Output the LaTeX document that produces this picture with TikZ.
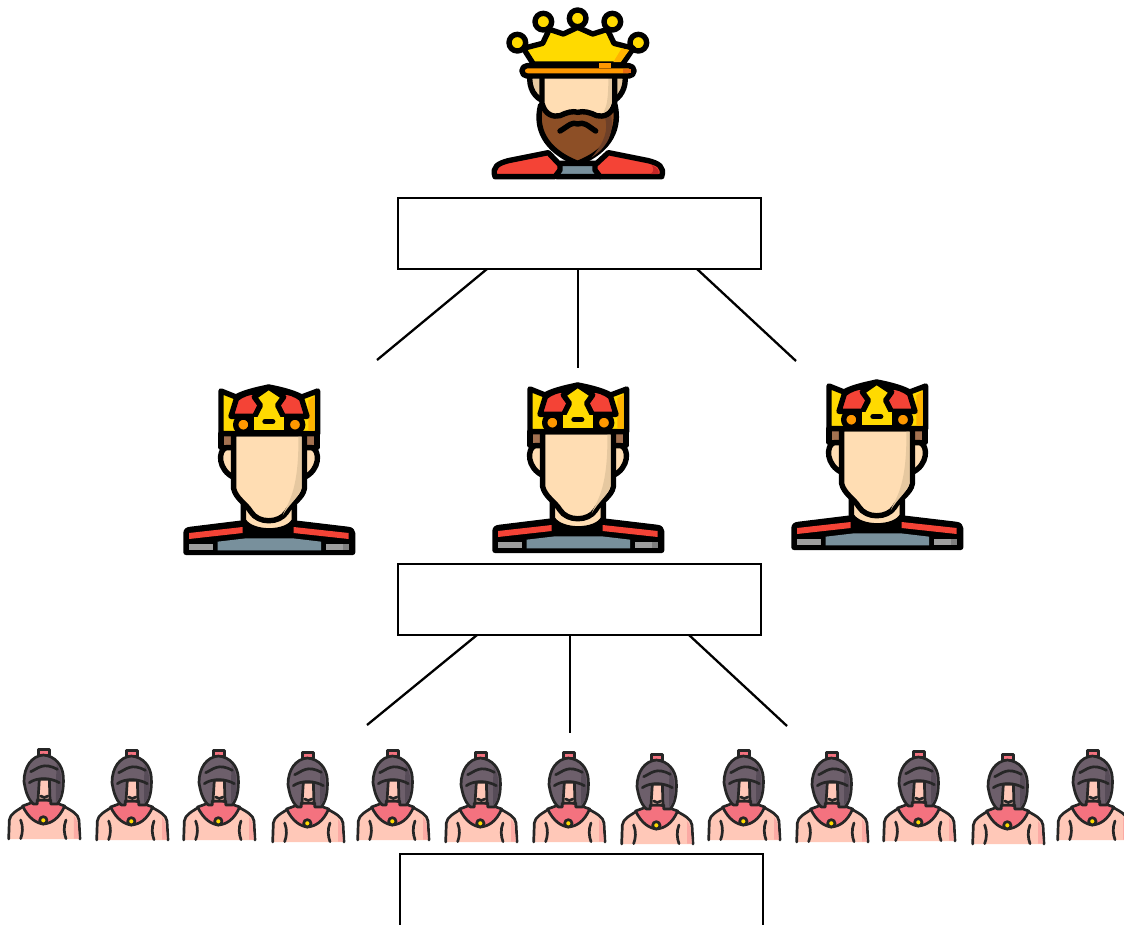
\documentclass[tikz,border=0pt]{standalone}
\usetikzlibrary{calc}
\definecolor{gold}{HTML}{FFDA00}
\definecolor{goldd}{HTML}{FFB300}
\definecolor{orng}{HTML}{FF9800}
\definecolor{skin}{HTML}{FFDDB3}
\definecolor{skind}{HTML}{E6C8A0}
\definecolor{beard}{HTML}{8D4F26}
\definecolor{beardd}{HTML}{6E4028}
\definecolor{redc}{HTML}{F44336}
\definecolor{redd}{HTML}{C62828}
\definecolor{slate}{HTML}{78909C}
\definecolor{grayb}{HTML}{9E9E9E}
\definecolor{helm}{HTML}{6D5F6B}
\definecolor{helmd}{HTML}{574C58}
\definecolor{sskin}{HTML}{FFC8B8}
\definecolor{scoll}{HTML}{F4727F}
\tikzset{
 ln/.style={draw=black,line width=5.4pt,line join=round,line cap=round},
 sl/.style={draw=black!85,line width=2.7pt,line join=round,line cap=round},
 boxn/.style={draw=black,line width=2.6pt,fill=white,minimum width=363pt,minimum height=71pt,inner sep=0pt,outer sep=0pt},
 conn/.style={draw=black,line width=2.3pt},
 king/.pic={
  \begin{scope}[scale=1/3]
   % shoulders
   \draw[ln,fill=slate] (230,530) -- (240,490) -- (350,490) -- (360,530) -- cycle;
   \draw[ln,fill=redc] (45,530) .. controls (35,500) and (55,490) .. (85,482) -- (205,458) -- (240,495) -- (240,510) -- (225,530) -- cycle;
   \draw[ln,fill=redc] (545,530) .. controls (555,500) and (535,490) .. (505,482) -- (385,458) -- (345,495) -- (345,510) -- (360,530) -- cycle;
   \fill[redd] (515,495) .. controls (535,505) and (538,512) .. (535,522) -- (512,522) .. controls (522,515) and (522,505) .. (515,495) -- cycle;
   % ears
   \draw[ln,fill=skind] (150,225) .. controls (145,265) and (165,295) .. (195,305) -- (195,225) -- cycle;
   \draw[ln,fill=skind] (435,225) .. controls (440,265) and (420,295) .. (395,305) -- (395,225) -- cycle;
   % beard
   \draw[ln,fill=beard] (182,315) .. controls (165,380) and (190,450) .. (293,490) .. controls (395,450) and (420,380) .. (405,315) -- (293,300) -- cycle;
   \fill[beardd] (393,345) .. controls (403,395) and (385,440) .. (335,472) .. controls (375,425) and (385,390) .. (375,352) -- cycle;
   % face
   \draw[ln,fill=skin] (186,225) -- (186,310) .. controls (195,345) and (220,352) .. (240,347) .. controls (260,337) and (280,332) .. (293,337) .. controls (310,332) and (330,337) .. (350,347) .. controls (370,352) and (395,345) .. (404,310) -- (404,225) -- cycle;
   \fill[skind] (385,235) -- (395,235) -- (395,305) .. controls (390,325) and (380,335) .. (370,338) .. controls (380,320) and (385,300) .. (385,235) -- cycle;
   \draw[ln] (240,393) .. controls (270,375) and (275,365) .. (293,372) .. controls (312,365) and (320,375) .. (347,393);
   % crown balls
   \draw[ln,fill=gold] (112,128) circle (25);
   \draw[ln,fill=gold] (190,65) circle (25);
   \draw[ln,fill=gold] (293,55) circle (25);
   \draw[ln,fill=gold] (397,65) circle (25);
   \draw[ln,fill=gold] (475,128) circle (25);
   % crown
   \draw[ln,fill=gold] (160,192) -- (130,145) -- (188,130) -- (208,88) -- (250,102) -- (293,82) -- (338,102) -- (382,88) -- (402,130) -- (460,145) -- (428,192) -- cycle;
   \fill[goldd] (425,145) -- (448,150) -- (422,186) -- (400,186) -- cycle;
   % band
   \draw[ln,fill=orng,rounded corners=5pt] (126,197) rectangle (462,228);
   \fill[orng] (358,188) rectangle (392,205);
   \fill[redd!40!orng] (430,206) rectangle (452,220);
  \end{scope}
 },
 prince/.pic={
  \begin{scope}[scale=1/3]
   % shoulders
   \draw[ln,fill=black] (45,526) -- (45,470) .. controls (45,460) and (50,458) .. (60,457) -- (215,438) -- (370,438) -- (530,457) .. controls (540,458) and (545,462) .. (545,470) -- (545,526) -- cycle;
   \fill[redc] (54,468) -- (215,450) -- (215,468) -- (54,486) -- cycle;
   \fill[redc] (368,450) -- (533,468) -- (533,486) -- (368,468) -- cycle;
   \fill[slate] (140,494) -- (225,484) -- (365,484) -- (450,494) -- (450,520) -- (140,520) -- cycle;
   \fill[grayb] (54,500) rectangle (125,520);
   \fill[grayb] (465,500) rectangle (535,520);
   \fill[black!50] (517,500) rectangle (535,520);
   % neck
   \draw[ln,fill=skin] (217,375) -- (217,430) .. controls (240,472) and (350,472) .. (370,430) -- (370,375) -- cycle;
   % hair
   \draw[ln,fill=beard!80] (150,170) -- (150,212) -- (190,212) -- (190,170) -- cycle;
   \draw[ln,fill=beard!80] (438,170) -- (438,212) -- (398,212) -- (398,170) -- cycle;
   % ears
   \draw[ln,fill=skin] (190,212) -- (165,212) .. controls (140,220) and (140,280) .. (190,302) -- cycle;
   \draw[ln,fill=skin] (398,212) -- (423,212) .. controls (448,220) and (448,280) .. (398,302) -- cycle;
   % face
   \draw[ln,fill=skin] (188,170) -- (188,335) .. controls (195,365) and (225,380) .. (240,405) .. controls (262,440) and (325,440) .. (347,405) .. controls (360,380) and (395,365) .. (400,335) -- (400,170) -- cycle;
   \fill[skind] (382,178) -- (392,178) -- (392,333) .. controls (385,360) and (355,380) .. (335,415) .. controls (345,385) and (385,350) .. (382,178) -- cycle;
   % crown
   \draw[ln,fill=gold] (150,42) -- (195,60) .. controls (220,45) and (270,35) .. (293,30) .. controls (320,35) and (365,45) .. (392,60) -- (440,42) -- (440,170) -- (150,170) -- cycle;
   \fill[goldd] (412,70) -- (431,57) -- (431,161) -- (412,161) -- cycle;
   \draw[ln,fill=redc] (180,118) -- (196,66) .. controls (215,50) and (235,46) .. (250,44) -- (268,85) -- (252,118) -- cycle;
   \draw[ln,fill=redc] (408,118) -- (392,66) .. controls (373,50) and (353,46) .. (338,44) -- (320,85) -- (336,118) -- cycle;
   \draw[ln,fill=gold] (293,30) -- (250,60) -- (268,85) -- (245,130) -- (245,162) -- (343,162) -- (343,130) -- (320,85) -- (338,60) -- cycle;
   \fill[gold] (249,120) rectangle (339,158);
   \draw[ln,fill=orng] (217,143) circle (23);
   \draw[ln,fill=orng] (372,143) circle (23);
   \draw[ln] (282,134) -- (305,134);
  \end{scope}
 },
 soldier/.pic={
  \begin{scope}[scale=1/3]
   % plume
   \draw[sl,fill=scoll] (116,28) rectangle (148,46);
   % body
   \fill[sskin] (26,297) -- (28,240) .. controls (30,222) and (50,212) .. (72,198) -- (190,198) .. controls (215,212) and (235,222) .. (237,240) -- (240,297) -- cycle;
   \draw[sl] (26,297) -- (28,240) .. controls (30,222) and (50,212) .. (72,198);
   \draw[sl] (190,198) .. controls (215,212) and (235,222) .. (237,240) -- (240,297);
   \fill[sskin!65!scoll] (222,228) .. controls (232,238) and (235,260) .. (236,296) -- (222,296) -- cycle;
   \draw[sl,fill=scoll] (68,198) .. controls (85,235) and (110,250) .. (130,252) .. controls (155,250) and (178,235) .. (194,198) -- (130,175) -- cycle;
   \draw[sl,fill=gold] (130,241) circle (11);
   \draw[sl] (62,240) .. controls (70,260) and (68,280) .. (62,296);
   \draw[sl] (198,240) .. controls (190,260) and (192,280) .. (198,296);
   % helmet
   \draw[sl,fill=helm] (130,45) .. controls (95,48) and (72,80) .. (72,125) .. controls (76,150) and (82,175) .. (100,192) -- (112,192) -- (112,180) -- (152,180) -- (152,192) -- (172,192) .. controls (185,175) and (192,150) .. (190,110) .. controls (188,75) and (165,48) .. (130,45) -- cycle;
   \fill[helmd] (170,72) .. controls (186,95) and (188,130) .. (180,172) -- (168,186) -- (168,120) -- cycle;
   \draw[sl] (92,95) .. controls (115,85) and (130,65) .. (172,88);
   \draw[sl] (88,128) .. controls (110,112) and (150,112) .. (178,128);
   \draw[sl,fill=sskin] (118,118) -- (148,118) -- (150,180) -- (114,180) -- cycle;
   \draw[sl] (122,168) .. controls (128,174) and (138,174) .. (144,168);
  \end{scope}
 }
}
\begin{document}
\begin{tikzpicture}[x=1pt,y=-1pt]
\useasboundingbox (0,0) rectangle (1124,924);
\pic at (480,0) {king};
\pic at (171,377) {prince};
\pic at (480,375) {prince};
\pic at (779,372) {prince};
\foreach \xx/\yy in {0/0,88/1,175/1,264/3,349/1,437/3,525/3,613/5,700/1,788/3,875/2,964/5,1049/1}
  \pic at (\xx,740+\yy) {soldier};
\node[boxn,anchor=north west] (kingbox) at (398,198) {};
\node[boxn,anchor=north west] (princebox) at (398,564) {};
\begin{scope}
\clip (0,0) rectangle (1124,924);
\node[boxn,anchor=north west,minimum height=76pt] (soldierbox) at (400,854) {};
\end{scope}
\coordinate (a1) at (377,360); \coordinate (a2) at (578,368); \coordinate (a3) at (796,361);
\coordinate (b1) at (367,725); \coordinate (b2) at (570,733); \coordinate (b3) at (787,726);
\draw[conn] (kingbox.south west) ++(89,0) -- (a1);
\draw[conn] (kingbox.south west) ++(180,0) -- (a2);
\draw[conn] (kingbox.south west) ++(299,0) -- (a3);
\draw[conn] (princebox.south west) ++(79,0) -- (b1);
\draw[conn] (princebox.south west) ++(172,0) -- (b2);
\draw[conn] (princebox.south west) ++(291,0) -- (b3);
\end{tikzpicture}
\end{document}
